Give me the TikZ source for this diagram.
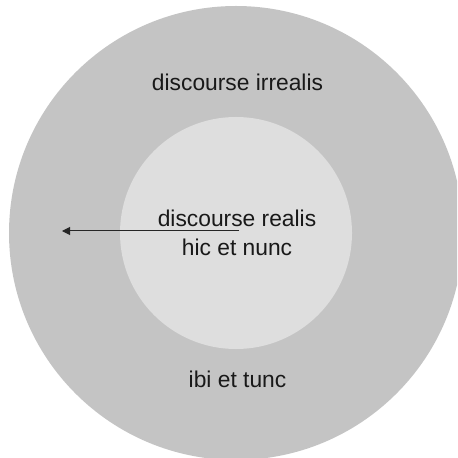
\documentclass[tikz,border=0pt]{standalone}
\usepackage{fontspec}
\setmainfont{Liberation Sans}
\usetikzlibrary{arrows.meta}
\definecolor{outergray}{HTML}{C4C4C4}
\definecolor{innergray}{HTML}{DEDEDE}

\begin{document}
\begin{tikzpicture}[
    x=0.5pt, y=-0.5pt,
    every node/.style={font=\fontsize{11.4}{14.5}\selectfont, text=black!90},
    label/.style={
        align=center,
        inner sep=0pt
    },
    arrow/.style={
        -{Triangle[length=4pt, width=4pt]},
        line width=0.5pt,
        black!85
    }
]

\useasboundingbox (0,0) rectangle (457,458);
\clip (0,0) rectangle (457,458);

% Kreise
\fill[outergray] (236,233) circle (227);
\fill[innergray] (236,233) circle (116);

% Beschriftungen
\node[label] (irrealis) at (237.5,82) {discourse irrealis};

\node[label] (realis) at (237,233) {discourse realis\\hic et nunc};

\node[label] (ibi) at (237.5,379) {ibi et tunc};

% Pfeil
\coordinate (start) at (239,231);
\coordinate (ziel) at (62,231);

\draw[arrow] (start) -- (ziel);

\end{tikzpicture}
\end{document}
